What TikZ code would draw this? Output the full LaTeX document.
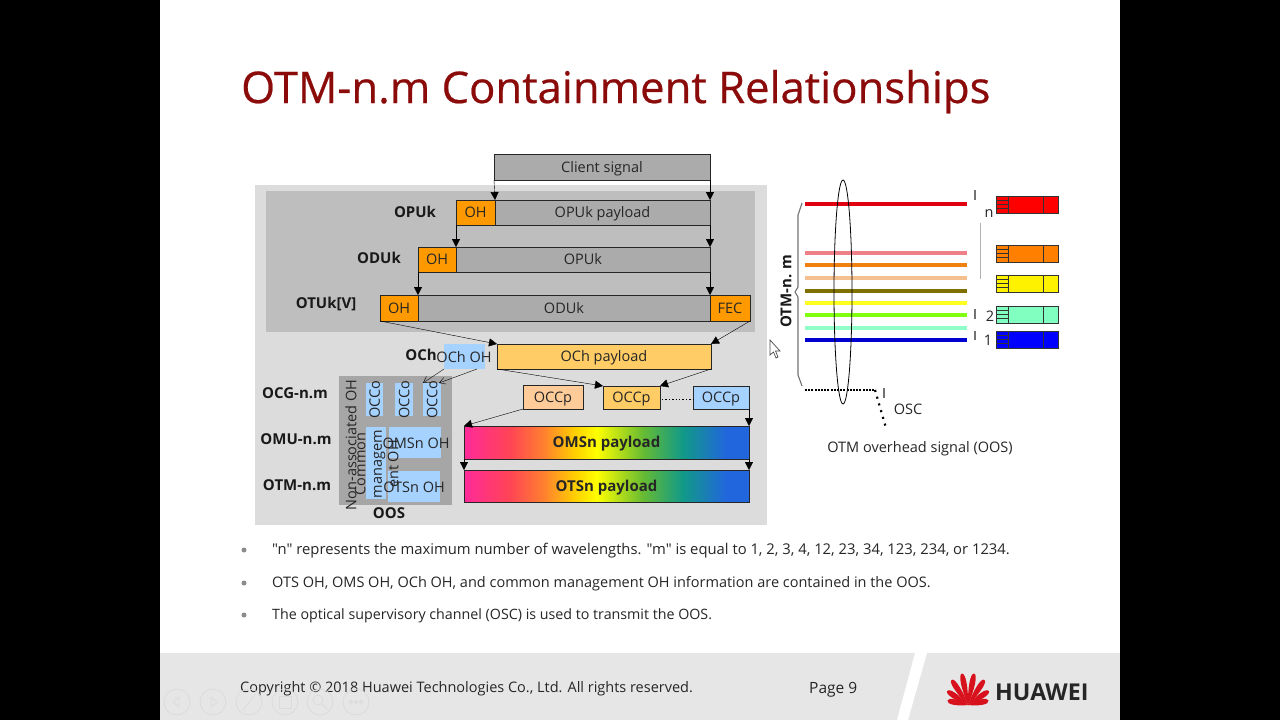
\documentclass[tikz,border=0pt]{standalone}
\usepackage{fontspec}
\setmainfont{Open Sans}
\newfontfamily\straightfont{Open Sans}
\newfontfamily\headfont{Open Sans}[FakeBold=0.5]
\usetikzlibrary{arrows.meta}

\definecolor{titlered}{HTML}{8B0A0A}
\definecolor{bargray}{HTML}{ABABAB}
\definecolor{outergray}{HTML}{DCDCDC}
\definecolor{innergray}{HTML}{BEBEBE}
\definecolor{oosgray}{HTML}{A6A6A6}
\definecolor{ohorange}{HTML}{FF9900}
\definecolor{ochyellow}{HTML}{FFCC66}
\definecolor{peach}{HTML}{FFCC99}
\definecolor{ohblue}{HTML}{A6D2FF}
\definecolor{footgray}{HTML}{E6E6E6}
\definecolor{gpink}{HTML}{FF2A9A}
\definecolor{gred}{HTML}{FF4455}
\definecolor{gorange}{HTML}{FF7F30}
\definecolor{gamber}{HTML}{FFD000}
\definecolor{gyellow}{HTML}{FFFF00}
\definecolor{ggreen}{HTML}{66BB33}
\definecolor{gteal}{HTML}{119988}
\definecolor{gblue}{HTML}{2266DD}
\definecolor{lnred}{HTML}{E00010}
\definecolor{lnpink}{HTML}{F08088}
\definecolor{lnorange}{HTML}{F08010}
\definecolor{lnpeach}{HTML}{F5C090}
\definecolor{lnolive}{HTML}{807000}
\definecolor{lnyellow}{HTML}{FFFF20}
\definecolor{lngreen}{HTML}{80FF10}
\definecolor{lnaqua}{HTML}{90FFC8}
\definecolor{lnblue}{HTML}{0000D0}
\definecolor{cardorange}{HTML}{FF8000}
\definecolor{cardaqua}{HTML}{80FFC0}
\definecolor{logored}{HTML}{D8121C}
\pgfdeclarehorizontalshading{rainbowbar}{100bp}{color(0bp)=(gpink); color(25bp)=(gpink); color(33bp)=(gred); color(38.9bp)=(gorange); color(44.5bp)=(gamber); color(48.3bp)=(gyellow); color(56.4bp)=(ggreen); color(63.4bp)=(gteal); color(71bp)=(gblue); color(100bp)=(gblue)}

\tikzset{
  sized/.style 2 args={minimum width=#1pt, minimum height=#2pt, inner sep=0pt, outer sep=0pt},
  txt/.style={font=\fontsize{14.5}{16}\selectfont, text=black!85, text height=10.5pt, text depth=0pt},
  boxed/.style={draw=black!85, line width=0.9pt, txt},
  framebar/.style={boxed, fill=bargray},
  ohbox/.style={boxed, fill=ohorange},
  blueback/.style={fill=ohblue, txt},
  rainbow/.style={boxed, shade, shading=rainbowbar, font=\fontsize{15}{16}\selectfont\bfseries},
  levelname/.style={font=\fontsize{15}{16}\selectfont\bfseries, text=black!90, text height=10.5pt, text depth=0pt},
  bodytext/.style={anchor=base west, font=\fontsize{14.5}{16}\selectfont, text=black!85, inner sep=0pt},
  bulletdot/.style={circle, fill=black!45, minimum size=5pt, inner sep=0pt},
  ctrlicon/.style={draw=black!14, line width=0.8pt},
  tick/.style={draw=black!55, line width=1.1pt},
}

\begin{document}
\begin{tikzpicture}[x=1pt, y=-1pt, >={Stealth[length=8pt,width=8pt,inset=0pt]}]
    \useasboundingbox (0,0) rectangle (1280,720);
    % slide
    \fill [black] (0,0) rectangle (1280,720);
    \fill [white] (160,0) rectangle (1120,720);
    \fill [footgray] (160,653) rectangle (1120,720);
    \fill [white] (915,653) -- (927,653) -- (908,720) -- (897,720) -- cycle;
    \node [anchor=base west, inner sep=0pt, text=titlered, font=\headfont\fontsize{43.6}{47}\selectfont] (title) at (241,103) {OTM-n.m Containment Relationships};

    % left panel
    \fill [outergray] (255,185) rectangle (767,525);
    \fill [innergray] (266,191) rectangle (755,332);
    \fill [oosgray] (339,376) rectangle (452,505);

    \node [framebar, sized={216}{26}, anchor=north west] (client) at (494,154) {Client signal};
    \node [ohbox, sized={39}{25}, anchor=north west] (opuoh) at (456,200) {OH};
    \node [framebar, sized={215}{25}, anchor=north west] (opupay) at (495,200) {OPUk payload};
    \node [ohbox, sized={38}{25}, anchor=north west] (oduoh) at (418,247) {OH};
    \node [framebar, sized={254}{25}, anchor=north west] (opubar) at (456,247) {OPUk};
    \node [ohbox, sized={38}{26}, anchor=north west] (otuoh) at (380,295) {OH};
    \node [framebar, sized={292}{26}, anchor=north west] (odubar) at (418,295) {ODUk};
    \node [ohbox, sized={40}{26}, anchor=north west] (fec) at (710,295) {FEC};

    \node [blueback, sized={41}{25}, anchor=north west] (ochoh) at (444,344) {};
    \node [txt] (ochohtxt) at (464,357) {OCh OH};
    \node [boxed, fill=ochyellow, sized={214}{25}, anchor=north west] (ochpay) at (497,344) {OCh payload};

    \node [boxed, fill=peach, sized={60}{24}, anchor=north west] (occpa) at (523,385) {OCCp};
    \node [boxed, fill=ochyellow, sized={57}{23}, anchor=north west] (occpb) at (603,386) {OCCp};
    \node [boxed, fill=ohblue, sized={56}{23}, anchor=north west] (occpc) at (693,386) {OCCp};

    \node [rainbow, sized={285}{33}, anchor=north west] (omspay) at (464,426) {OMSn payload};
    \node [rainbow, sized={285}{32}, anchor=north west] (otspay) at (464,470) {OTSn payload};

    % OOS block
    \node [blueback, sized={17}{33}, anchor=north west, rotate=0] (occoa) at (366,383) {};
    \node [blueback, sized={18}{33}, anchor=north west] (occob) at (395,383) {};
    \node [blueback, sized={18}{33}, anchor=north west] (occoc) at (423,383) {};
    \node [txt, rotate=90] at (occoa) {OCCo};
    \node [txt, rotate=90] at (occob) {OCCo};
    \node [txt, rotate=90] at (occoc) {OCCo};
    \node [blueback, sized={20}{72}, anchor=north west] (mgmt) at (366,427) {};
    \node [blueback, sized={52}{31}, anchor=north west] (omsoh) at (389,427) {};
    \node [blueback, sized={52}{31}, anchor=north west] (otsoh) at (388,471) {};
    \node [txt] at (416,443) {OMSn OH};
    \node [txt] at (414,487) {OTSn OH};
    \node [txt, rotate=90] at (351,445) {Non-associated OH};
    \node [txt, rotate=90, align=center, font=\fontsize{14.5}{16.5}\selectfont] at (393,464) {Common\\managem\\ent OH};

    \node [levelname] (lopu) at (415,212) {OPUk};
    \node [levelname] (lodu) at (379,258) {ODUk};
    \node [levelname] (lotu) at (326,303) {OTUk[V]};
    \node [levelname] (loch) at (421,355) {OCh};
    \node [levelname] (locg) at (295,393) {OCG-n.m};
    \node [levelname] (lomu) at (296,439) {OMU-n.m};
    \node [levelname] (lotm) at (297,485) {OTM-n.m};
    \node [levelname] (loos) at (389,513) {OOS};

    % connectors
    \draw [->] (client.south west) -- (opupay.north west);
    \draw [->] (client.south east) -- (opupay.north east);
    \draw [->] (opuoh.south west) -- (opubar.north west);
    \draw [->] (opupay.south east) -- (opubar.north east);
    \draw [->] (oduoh.south west) -- (odubar.north west);
    \draw [->] (opubar.south east) -- (odubar.north east);
    \draw [->] (otuoh.south west) -- (ochpay.north west);
    \draw [->] (fec.south east) -- (ochpay.north east);
    \draw [->, >={Straight Barb[length=6pt,width=7pt]}] (ochoh.south west) -- (occoc.north west);
    \draw [->, >={Straight Barb[length=6pt,width=7pt]}] ([xshift=-8pt]ochoh.south east) -- ([xshift=-2pt]occoc.north east);
    \draw [->] (ochpay.south west) -- (occpb.north west);
    \draw [->] (ochpay.south east) -- (occpb.north east);
    \draw [->] (occpa.south west) -- (omspay.north west);
    \draw [->] (occpc.south east) -- (omspay.north east);
    \draw [->] (omspay.south west) -- (otspay.north west);
    \draw [->] (omspay.south east) -- (otspay.north east);
    \draw [line width=1.4pt, dotted] ([yshift=-2pt]occpb.east) ++(2,0) -- ([yshift=-2pt]occpc.west) ++(-5,0);

    % right side
    \foreach \y/\c/\w in {204/lnred/3.5, 253/lnpink/4.5, 265/lnorange/3.5, 278/lnpeach/4.5, 291/lnolive/4, 303/lnyellow/4, 315/lngreen/4.5, 328/lnaqua/4, 340/lnblue/4}
        \draw [line width=\w pt, \c] (805,\y) -- (967,\y);
    \draw [black, line width=0.8pt] (843,292) ellipse [x radius=9, y radius=112];
    \draw [black!55, line width=1.1pt] (802,203) -- (798,215) -- (798,287) -- (795,292) -- (798,297) -- (798,375) -- (802,386);
    \node [levelname, rotate=90] (lotmnm) at (786,291) {OTM-n. m};
    \draw [tick] (975,190) -- (975,200);
    \draw [tick] (975,309) -- (975,319);
    \draw [tick] (975,331) -- (975,340);
    \draw [tick] (884,388) -- (884,398);
    \draw [black!30, line width=0.9pt] (980,223) -- (980,279);
    \node [txt] (nn) at (989,212) {n};
    \node [txt] (ntwo) at (990,316) {2};
    \node [txt] (none) at (988,340) {1};

    \foreach \y/\c in {196/red, 245/cardorange, 275/yellow, 306/cardaqua, 331/blue} {
        \draw [fill=\c, draw=black!80, line width=0.8pt] (996,\y) rectangle (1058,\y+17);
        \draw [black!80, line width=0.8pt] (1043,\y) -- (1043,\y+17);
        \draw [black!80, line width=0.8pt] (1008,\y) -- (1008,\y+17);
        \foreach \k in {4,8,12}
            \draw [black!80, line width=0.8pt] (996,\y+\k) -- (1008,\y+\k);
    }

    \draw [line width=2.4pt, dash pattern=on 2pt off 1.2pt] (805,390) -- (875,390);
    \draw [line width=2.2pt, dash pattern=on 2pt off 5pt] (875,390) -- (886,428);
    \node [txt] (osc) at (908,409) {OSC};
    \node [txt] (oos) at (920,447) {OTM overhead signal (OOS)};

    % mouse pointer
    \draw [fill=white, draw=black!70, line width=0.7pt] (770,340) -- (770,355) -- (773.5,352) -- (776,358) -- (778,357) -- (775.5,351) -- (780,351) -- cycle;

    % bullets
    \node [bulletdot] (bullone) at (244,550) {};
    \node [bulletdot] (bulltwo) at (244,583) {};
    \node [bulletdot] (bullthree) at (244,615) {};
    \node [bodytext, font=\straightfont\fontsize{14.8}{16}\selectfont] (lineone) at (272,554) {"n" represents the maximum number of wavelengths. "m" is equal to 1, 2, 3, 4, 12, 23, 34, 123, 234, or 1234.};
    \node [bodytext] (linetwo) at (272,587) {OTS OH, OMS OH, OCh OH, and common management OH information are contained in the OOS.};
    \node [bodytext, font=\fontsize{14.25}{16}\selectfont] (linethree) at (272,619) {The optical supervisory channel (OSC) is used to transmit the OOS.};

    % footer
    \node [bodytext] (copyr) at (240,692) {Copyright © 2018 Huawei Technologies Co., Ltd. All rights reserved.};
    \node [bodytext, font=\fontsize{15.5}{16}\selectfont] (pageno) at (809,693) {Page 9};
    \foreach \a/\l in {-78/21, -56/25, -33/30, -11/32, 11/32, 33/30, 56/25, 78/21}
        \fill [logored, rotate around={\a:(968,705)}] (968,705) .. controls (964.5,705-\l*0.5) and (964,705-\l) .. (968,705-\l) .. controls (972,705-\l) and (971.5,705-\l*0.5) .. (968,705);
    \node [anchor=base west, inner sep=0pt, text=black!85, font=\fontsize{23.2}{24}\selectfont\bfseries] (brand) at (995,700) {HUAWEI};

    % presenter controls
    \foreach \x in {177,213,249,285,320,356}
        \draw [ctrlicon] (\x,702) circle [radius=13];
    \draw [ctrlicon] (179,697) -- (173,702) -- (179,707) -- cycle;
    \draw [ctrlicon] (211,697) -- (217,702) -- (211,707) -- cycle;
    \draw [ctrlicon] (243,710) -- (255,695);
    \draw [ctrlicon] (279,696) rectangle (291,708);
    \draw [ctrlicon] (318,700) circle [radius=5];
    \draw [ctrlicon] (322,704) -- (327,709);
    \foreach \x in {351,356,361}
        \draw [ctrlicon] (\x,702) circle [radius=1.5];
\end{tikzpicture}
\end{document}
